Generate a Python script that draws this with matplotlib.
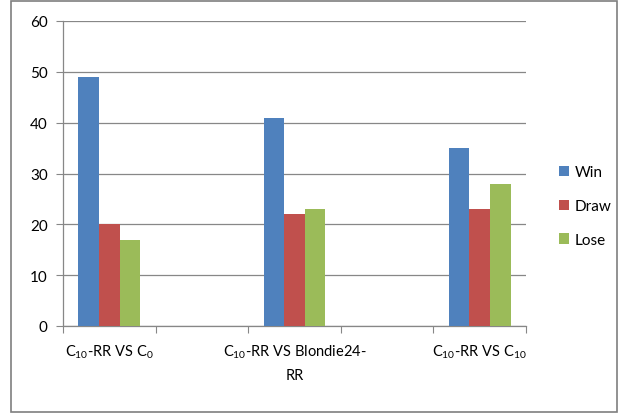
import matplotlib
matplotlib.use("Agg")
import matplotlib.pyplot as plt
from matplotlib.patches import Rectangle
import numpy as np

plt.rcParams['font.family'] = ['Lato', 'DejaVu Sans']
plt.rcParams['mathtext.fontset'] = 'custom'
plt.rcParams['mathtext.rm'] = 'Lato'
plt.rcParams['mathtext.it'] = 'Lato'

categories = ["C$_{10}$-RR VS C$_{0}$", "C$_{10}$-RR VS Blondie24-\nRR", "C$_{10}$-RR VS C$_{10}$"]
series_names = ["Win", "Draw", "Lose"]
win = [49, 41, 35]
draw = [20, 22, 23]
lose = [17, 23, 28]
colors = ["#4F81BD", "#C0504D", "#9BBB59"]
yticks = [0, 10, 20, 30, 40, 50, 60]

W, H = 623, 414
fig = plt.figure(figsize=(W / 100, H / 100), dpi=100)
ax = fig.add_axes([63 / W, 1 - 327 / H, (526 - 63) / W, (327 - 22) / H])

# categories sit in every other slot (empty slots between groups)
pos = np.arange(len(categories)) * 2
bw = 0.222
for i, (vals, name, c) in enumerate(zip([win, draw, lose], series_names, colors)):
    ax.bar(pos + (i - 1) * bw, vals, width=bw, color=c, label=name, zorder=3)

ax.set_xlim(-0.5, pos[-1] + 0.5)
ax.set_ylim(0, 60)
ax.set_yticks(yticks)
ax.grid(axis='y', color='#878787', linewidth=0.9, zorder=0)
ax.set_axisbelow(True)

ax.set_xticks(np.arange(-0.5, pos[-1] + 1.0, 1.0))
ax.set_xticklabels([])
ax.set_xticks(pos, minor=True)
ax.set_xticklabels(categories, minor=True, fontsize=10.5, color='#000000', linespacing=1.7)
ax.tick_params(axis='x', which='major', length=5, color='#878787', direction='out')
ax.tick_params(axis='x', which='minor', length=0, pad=12)
ax.tick_params(axis='y', length=5, color='#878787', labelsize=11, pad=6)

for s in ['top', 'right']:
    ax.spines[s].set_visible(False)
for s in ['left', 'bottom']:
    ax.spines[s].set_color('#878787')
    ax.spines[s].set_linewidth(0.9)

leg = fig.legend(loc='center left', bbox_to_anchor=(545 / W, 1 - 207 / H),
                 frameon=False, fontsize=11, handlelength=0.65, handleheight=0.65,
                 handletextpad=0.4, labelspacing=1.3)

fig.patches.append(Rectangle((11 / W, 1 - 413 / H), (617 - 11) / W, (413 - 2) / H,
                             transform=fig.transFigure, fill=False,
                             edgecolor='#7f7f7f', linewidth=1.2))

fig.savefig("out.png", dpi=100)
